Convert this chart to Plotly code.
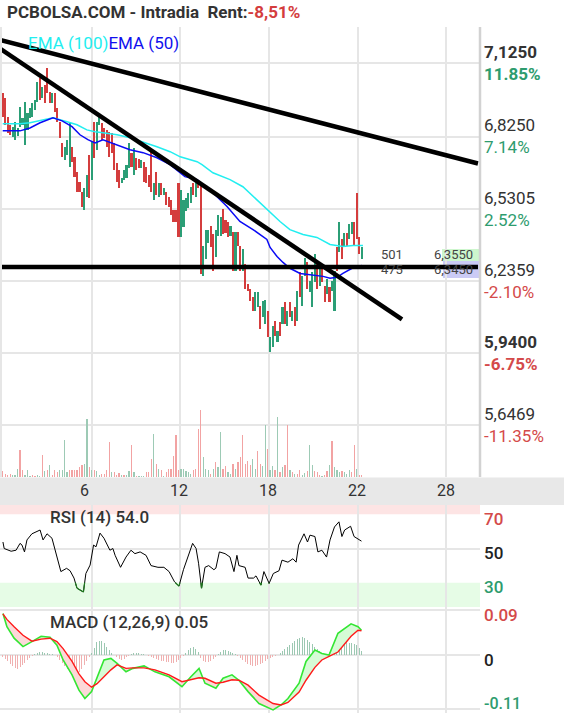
import plotly.graph_objects as go

# ---------------- data ----------------
opens = [
    7.003, 6.983, 6.905, 6.873, 6.824, 6.812, 6.828, 6.865, 6.873, 6.791,
    6.852, 6.901, 6.905, 6.934, 6.966, 7.064, 6.983, 7.036, 7.105, 7.007,
    6.962, 7.003, 6.942, 6.885, 6.799, 6.730, 6.751, 6.702, 6.783, 6.742,
    6.681, 6.641, 6.600, 6.527, 6.580, 6.751, 6.649, 6.885, 6.771, 6.873,
    6.881, 6.861, 6.852, 6.844, 6.840, 6.799, 6.718, 6.690, 6.637, 6.649,
    6.657, 6.698, 6.759, 6.669, 6.738, 6.734, 6.698, 6.722, 6.702, 6.669,
    6.763, 6.567, 6.681, 6.580, 6.637, 6.588, 6.600, 6.580, 6.567, 6.527,
    6.527, 6.637, 6.413, 6.454, 6.519, 6.535, 6.555, 6.637, 6.580, 6.649,
    6.637, 6.254, 6.323, 6.392, 6.458, 6.425, 6.335, 6.417, 6.417, 6.531,
    6.486, 6.478, 6.417, 6.437, 6.274, 6.437, 6.376, 6.274, 6.303, 6.221,
    6.201, 6.169, 6.112, 6.128, 6.132, 6.087, 6.059, 6.112, 5.945, 5.965,
    6.071, 5.985, 6.067, 6.059, 6.148, 6.050, 6.148, 6.071, 6.128, 6.071,
    6.270, 6.132, 6.254, 6.311, 6.189, 6.128, 6.230, 6.303, 6.213, 6.303,
    6.213, 6.181, 6.209, 6.193, 6.112, 6.372, 6.352, 6.405, 6.372, 6.433,
    6.405, 6.425, 6.474, 6.596, 6.413, 6.323]
closes = [
    6.905, 6.873, 6.840, 6.832, 6.865, 6.885, 6.861, 6.946, 6.901, 6.966,
    6.922, 6.942, 6.962, 6.974, 7.048, 6.974, 7.027, 6.962, 7.003, 6.962,
    7.003, 6.926, 6.885, 6.820, 6.742, 6.783, 6.812, 6.885, 6.722, 6.661,
    6.600, 6.600, 6.539, 6.616, 6.669, 6.576, 6.804, 6.738, 6.885, 6.905,
    6.812, 6.820, 6.783, 6.742, 6.759, 6.690, 6.641, 6.616, 6.657, 6.690,
    6.710, 6.799, 6.702, 6.779, 6.690, 6.698, 6.730, 6.641, 6.637, 6.620,
    6.600, 6.637, 6.588, 6.637, 6.588, 6.616, 6.547, 6.539, 6.506, 6.474,
    6.478, 6.413, 6.608, 6.567, 6.576, 6.596, 6.620, 6.588, 6.637, 6.616,
    6.262, 6.376, 6.445, 6.445, 6.372, 6.274, 6.445, 6.506, 6.498, 6.425,
    6.433, 6.413, 6.458, 6.274, 6.437, 6.376, 6.274, 6.364, 6.201, 6.193,
    6.152, 6.112, 6.189, 6.189, 6.038, 6.152, 6.156, 6.006, 6.006, 6.050,
    6.010, 6.030, 6.010, 6.128, 6.059, 6.112, 6.087, 6.112, 6.050, 6.193,
    6.169, 6.254, 6.331, 6.201, 6.234, 6.270, 6.344, 6.201, 6.283, 6.230,
    6.148, 6.242, 6.148, 6.234, 6.274, 6.274, 6.478, 6.323, 6.433, 6.376,
    6.466, 6.478, 6.376, 6.405, 6.344, 6.372]
volumes = [
    5.7, 3.3, 2.3, 3.3, 2.3, 2.3, 8.3, 26.7, 7.3, 2.3,
    7.3, 1.3, 2.3, 1.3, 2.3, 1.3, 22.3, 5.7, 6.7, 12.3,
    2.3, 6.7, 4.7, 7.3, 7.3, 37.3, 4.7, 6.7, 6.7, 7.3,
    6.7, 9.7, 12.3, 13.3, 58.3, 10, 6.7, 7.3, 6.3, 2.3,
    3.3, 3.3, 7.3, 34.7, 4.7, 4.7, 2.3, 4, 2.3, 2.3,
    2.3, 6.3, 32.3, 4.7, 1.3, 1.3, 1.3, 1.3, 4.7, 4.7,
    18.3, 43.3, 13.3, 8.3, 7.3, 1.3, 5, 8.3, 8.3, 21.3,
    42.3, 7.3, 8.3, 8.3, 6.3, 4.7, 3, 7.3, 8.3, 48.3,
    67.3, 20, 8.3, 7.3, 3.3, 8.3, 14.7, 10, 44.7, 8.3,
    11.3, 5, 3.3, 13.3, 8.3, 14.7, 20, 42.3, 13.3, 15.7,
    11.7, 18.3, 8.3, 25.7, 13.3, 11.3, 51.7, 28.3, 6.7, 11.3,
    7.3, 59.7, 5, 10, 11.7, 52.3, 6.7, 5, 3.3, 3.3,
    7.3, 2.3, 4, 5.7, 31.7, 12.3, 5.7, 4.7, 2.3, 1.3,
    2.3, 5.7, 11.7, 36.3, 10, 7.3, 4.7, 5.7, 4.7, 3.3,
    7.3, 4.7, 32.3, 8.3, 2.3, 2.0]
volume_dir = list(
    "dddduuuddu" "uudduududu" "ddduuuuddd" "ddduududuu" "ddddudddud"
    "uududuuudd" "dudududddd" "dduuuuuddd" "duuududuud" "duududdddd"
    "duudduuduu" "dududdudud" "duuduudddu" "dduduuuduu" "uddudd")

# EMA lines (candle index, price)
ema100_x = [0, 7.0, 11.0, 15.1, 20.3, 26.0, 30.0, 34.0, 37.3, 40.5, 46.2, 51.4, 56.7,
            62.3, 67.6, 71.7, 78.5, 80.5, 84.9, 91.8, 97.0, 102.7, 107.9, 112.0,
            116.0, 121.3, 126.9, 132.2, 137.4, 141.5, 145.5]
ema100_y = [6.877, 6.877, 6.881, 6.889, 6.901, 6.885, 6.873, 6.852, 6.844, 6.840, 6.832,
            6.820, 6.803, 6.783, 6.763, 6.742, 6.722, 6.710, 6.677, 6.649, 6.620,
            6.567, 6.519, 6.478, 6.445, 6.425, 6.413, 6.384, 6.376, 6.380, 6.380]
ema50_x = [0, 7.0, 11.0, 15.1, 20.3, 24.0, 28.0, 31.2, 34.4, 37.3, 40.5, 46.2, 51.4,
           56.7, 62.3, 67.6, 73.6, 78.5, 84.9, 90.6, 95.8, 101.1, 106.7, 108.0,
           110.8, 113.2, 116.0, 120.1, 125.3, 129.4, 132.2, 135.0, 137.4, 141.1, 145.1]
ema50_y = [6.848, 6.848, 6.860, 6.881, 6.901, 6.889, 6.865, 6.832, 6.812, 6.799, 6.812,
           6.791, 6.771, 6.759, 6.738, 6.710, 6.661, 6.649, 6.596, 6.539, 6.478,
           6.445, 6.405, 6.372, 6.335, 6.311, 6.287, 6.266, 6.258, 6.254, 6.246,
           6.250, 6.266, 6.287, 6.299]

# trend lines drawn on the chart (start index, start price, end index, end price)
trend_x0 = [-1.09, -1.09, -1.09]
trend_y0 = [7.219, 7.184, 6.292]
trend_x1 = [191.96, 161.27, 191.96]
trend_y1 = [6.715, 6.078, 6.292]

# RSI (14)
rsi_x = [0.1, 0.6, 3.4, 5.4, 7, 7.8, 8.8, 9.8, 11.8, 15.1, 16.3, 17.9, 19.9, 22.1, 23.5,
         25.8, 27.2, 28.8, 30, 32.6, 33.6, 35.3, 36.7, 37.7, 39.3, 40.9, 43.3, 44.5,
         45.4, 47.6, 49.8, 51.8, 53.4, 55.5, 57.9, 59.9, 62.7, 65.1, 67.2, 69.4, 71.2,
         73, 75.2, 76.7, 78.1, 79.1, 80.3, 81.7, 83.2, 85.3, 86.1, 87.5, 89.8, 91.8,
         93.4, 94.6, 95.4, 97.9, 99.1, 101.3, 102.3, 104.3, 105.5, 107.6, 109.3,
         111.6, 112.8, 115.2, 117.2, 118.5, 119.5, 121.7, 123.1, 124.1, 126.1, 127.3,
         128.9, 130.8, 132.2, 134, 135.8, 137, 138.1, 140.5, 141.9, 143.5, 144.9]
rsi_v = [53.8, 50, 48.4, 49, 53, 52, 48, 55, 58.6, 60.8, 55, 58.6, 56, 45, 36.5,
         38.4, 37, 32.7, 26.8, 24.6, 35.4, 40.3, 52, 51, 59, 56, 49, 50,
         46, 39, 45, 49, 47, 48, 46, 40, 39, 39, 36.5, 30.5, 28,
         37.6, 47, 53, 50, 41.4, 26.8, 39, 40, 37.6, 38.5, 48, 47, 45,
         36.5, 46, 40, 39, 32.7, 32.7, 34, 28.6, 36.5, 29.6, 35.4,
         37, 43.2, 42, 44, 42, 52, 58.6, 53.8, 57.8, 57, 48,
         49, 45, 55, 62.6, 65.6, 57, 60.8, 63, 57, 55.4, 54.3]

# MACD (12,26,9)
macd_x = [0.1, 1.7, 4.6, 8.2, 11.8, 15.5, 19.1, 21.9, 24.4, 28.0, 30.8, 33.2, 35.9,
          38.1, 40.9, 43.7, 46.2, 49.8, 52.6, 57.1, 61.5, 67.2, 72.4, 76.0, 79.3,
          81.7, 86.1, 89.0, 92.6, 95.4, 99.1, 103.5, 109.2, 112.4, 115.2, 119.7,
          122.5, 126.1, 128.9, 131.8, 135.4, 140.7, 143.5, 144.9]
macd_line = [0.084, 0.057, 0.034, 0.017, 0.027, 0.038, 0.036, 0.020, -0.010, -0.040,
             -0.071, -0.088, -0.074, -0.044, -0.010, -0.007, -0.017, -0.034, -0.027,
             -0.022, -0.034, -0.044, -0.064, -0.044, -0.027, -0.057, -0.067, -0.047,
             -0.040, -0.051, -0.074, -0.098, -0.111, -0.101, -0.088, -0.057, -0.013,
             0.010, 0.003, 0.000, 0.044, 0.063, 0.057, 0.050]
signal_line = [0.083, 0.072, 0.057, 0.040, 0.028, 0.032, 0.034, 0.027, 0.013, -0.013,
               -0.038, -0.054, -0.065, -0.058, -0.044, -0.030, -0.020, -0.027, -0.026,
               -0.026, -0.030, -0.040, -0.054, -0.050, -0.046, -0.047, -0.057, -0.055,
               -0.050, -0.051, -0.061, -0.081, -0.098, -0.101, -0.096, -0.075, -0.051,
               -0.025, -0.010, -0.003, 0.006, 0.038, 0.050, 0.049]
hist_milli = [
    -4, -8, -12, -18, -22, -26, -28, -24, -20, -16, -10, -6, -2,
    2, 4, 6, 6, 4, 4, 2, 2, 0,
    -4, -10, -16, -22, -28, -34, -38, -40, -38, -34, -28, -20, -12, -4,
    4, 14, 26, 28, 28, 24, 16, 10, 4, 0,
    -4, -8, -10, -8, -4, -2,
    2, 4, 4, 4, 2, 2, 0, -2,
    -4, -6, -8, -10, -12, -12, -14, -14, -16, -16, -14, -10, -6, -2,
    4, 10, 14, 16, 12, 6,
    -6, -12, -14, -14, -12, -8, -4,
    2, 6, 10, 10, 8, 6, 4, 2,
    -2, -6, -10, -14, -18, -20, -22, -22, -20, -18, -16, -12, -8, -6, -4, -2, 0,
    4, 8, 12, 16, 20, 24, 28, 32, 34, 36, 34, 30, 26, 22, 16, 12, 8, 4, 2,
    2, 6, 12, 18, 24, 26, 26, 26, 26, 24, 24, 22, 20, 14, 8]

# axis texts
day_ticks = [36.1, 71.6, 107.6, 143.5, 179.0]          # day boundaries (gridlines)
day_label_x = [33.2, 71.2, 107.3, 143.1, 179.0]
day_labels = ["6", "12", "18", "22", "28"]
price_ticks = [7.125, 6.825, 6.5305, 6.2359, 5.94, 5.6469]
price_text = ["7,1250", "6,8250", "6,5305", "6,2359", "5,9400", "5,6469"]
pct_text = ["11.85%", "7.14%", "2.52%", "-2.10%", "-6.75%", "-11.35%"]
price_bold = [True, False, False, False, True, False]

# ---------------- figure ----------------
W, H = 564, 713
def pyp(px):   # pixel row -> paper y
    return 1 - px / H
def pxp(px):   # pixel column -> paper x
    return px / W

GREEN = "#2b9e76"
RED = "#d43d3d"
GRID = "#e6e6e6"
idx = list(range(len(opens)))

fig = go.Figure()

# volume (overlay axis y4)
fig.add_trace(go.Bar(
    x=idx, y=volumes, width=0.5, xaxis="x", yaxis="y4",
    marker=dict(color=["#f2a3a3" if d == "d" else "#9dcab5" for d in volume_dir], line_width=0),
    hoverinfo="skip", showlegend=False))

# candle bodies
fig.add_trace(go.Bar(
    x=idx, y=[abs(c - o) for o, c in zip(opens, closes)],
    base=[min(o, c) for o, c in zip(opens, closes)], width=0.85,
    marker=dict(color=[GREEN if c >= o else RED for o, c in zip(opens, closes)], line_width=0),
    xaxis="x", yaxis="y", showlegend=False))

fig.add_trace(go.Scatter(x=ema100_x, y=ema100_y, mode="lines",
                         line=dict(color="#22eef0", width=1.5), xaxis="x", yaxis="y", showlegend=False))
fig.add_trace(go.Scatter(x=ema50_x, y=ema50_y, mode="lines",
                         line=dict(color="#0a0af5", width=1.5), xaxis="x", yaxis="y", showlegend=False))

for a, b, c, d in zip(trend_x0, trend_y0, trend_x1, trend_y1):
    fig.add_trace(go.Scatter(x=[a, c], y=[b, d], mode="lines",
                             line=dict(color="black", width=4.5), xaxis="x", yaxis="y",
                             showlegend=False))

# RSI
fig.add_trace(go.Scatter(x=rsi_x, y=rsi_v, mode="lines", line=dict(color="black", width=1),
                         xaxis="x2", yaxis="y2", showlegend=False))
low_x, low_y = [], []
for k in range(len(rsi_x) - 1):
    x0, x1, v0, v1 = rsi_x[k], rsi_x[k + 1], rsi_v[k], rsi_v[k + 1]
    if v0 < 30 or v1 < 30:
        if v0 >= 30:
            x0 = x0 + (x1 - x0) * (v0 - 30) / (v0 - v1); v0 = 30
        if v1 >= 30:
            x1 = x0 + (x1 - x0) * (30 - v0) / (v1 - v0); v1 = 30
        low_x += [x0, x1, None]; low_y += [v0, v1, None]
fig.add_trace(go.Scatter(x=low_x, y=low_y, mode="lines", line=dict(color="#1f7a1f", width=1.2),
                         xaxis="x2", yaxis="y2", showlegend=False))

# MACD fill between lines
pos_x, pos_y, neg_x, neg_y = [], [], [], []
for k in range(len(macd_x) - 1):
    a0, a1 = macd_line[k], macd_line[k + 1]
    b0, b1 = signal_line[k], signal_line[k + 1]
    x0, x1 = macd_x[k], macd_x[k + 1]
    d0, d1 = a0 - b0, a1 - b1
    pieces = []
    if d0 * d1 < 0:
        t = d0 / (d0 - d1)
        xm = x0 + t * (x1 - x0); ym = a0 + t * (a1 - a0)
        pieces.append((x0, a0, b0, xm, ym, ym, d0))
        pieces.append((xm, ym, ym, x1, a1, b1, d1))
    else:
        pieces.append((x0, a0, b0, x1, a1, b1, d0 + d1))
    for (p0, pa, pb, q0, qa, qb, d) in pieces:
        xs = [p0, q0, q0, p0, p0, None]
        ys = [pa, qa, qb, pb, pa, None]
        if d >= 0:
            pos_x += xs; pos_y += ys
        else:
            neg_x += xs; neg_y += ys
fig.add_trace(go.Scatter(x=pos_x, y=pos_y, mode="lines", fill="toself", fillcolor="#d6fbd6",
                         line=dict(width=0), xaxis="x3", yaxis="y3", showlegend=False))
fig.add_trace(go.Scatter(x=neg_x, y=neg_y, mode="lines", fill="toself", fillcolor="#fcd8d8",
                         line=dict(width=0), xaxis="x3", yaxis="y3", showlegend=False))
fig.add_trace(go.Bar(x=idx, y=[h / 1000 for h in hist_milli], width=0.4,
                     marker=dict(color=["#9cc8b2" if h >= 0 else "#f0b0b0" for h in hist_milli],
                                 line_width=0),
                     xaxis="x3", yaxis="y3", showlegend=False))
fig.add_trace(go.Scatter(x=macd_x, y=macd_line, mode="lines", line=dict(color="#33e633", width=1.6),
                         xaxis="x3", yaxis="y3", showlegend=False))
fig.add_trace(go.Scatter(x=macd_x, y=signal_line, mode="lines", line=dict(color="#ff1a1a", width=1.4),
                         xaxis="x3", yaxis="y3", showlegend=False))

xr = [-1.09, 192.77]
xcommon = dict(range=xr, tickvals=day_ticks, showticklabels=False, showgrid=True,
               gridcolor=GRID, gridwidth=2, zeroline=False, showline=False, ticks="",
               domain=[0, pxp(480)], fixedrange=True)
fig.update_layout(
    width=W, height=H, margin=dict(l=0, r=0, t=0, b=0), autosize=False,
    paper_bgcolor="white", plot_bgcolor="white", barmode="overlay", bargap=0,
    font=dict(family="Roboto", color="#333"),
    xaxis=dict(**xcommon, anchor="y"),
    xaxis2=dict(**xcommon, anchor="y2", matches="x"),
    xaxis3=dict(**xcommon, anchor="y3", matches="x"),
    yaxis=dict(domain=[pyp(477), pyp(27)], range=[5.435, 7.272], tickvals=price_ticks,
               showticklabels=False, gridcolor=GRID, gridwidth=2, zeroline=False, fixedrange=True),
    yaxis4=dict(overlaying="y", range=[0, 450], visible=False, fixedrange=True),
    yaxis2=dict(domain=[pyp(607), pyp(505)], range=[15.79, 75.44], tickvals=[50],
                showticklabels=False, gridcolor=GRID, gridwidth=2, zeroline=False, fixedrange=True),
    yaxis3=dict(domain=[0, pyp(607)], range=[-0.1172, 0.097], tickvals=[0.09, 0, -0.11],
                showticklabels=False, gridcolor=GRID, gridwidth=2, zeroline=False, fixedrange=True),
)

shapes = [
    # x-axis band
    dict(type="rect", xref="paper", yref="paper", x0=0, x1=1, y0=pyp(505), y1=pyp(477.5),
         fillcolor="#e8e8e8", line_width=0, layer="below"),
    # RSI zones
    dict(type="rect", xref="x2 domain", yref="y2", x0=0, x1=1, y0=70, y1=75.44,
         fillcolor="#fde4e4", line_width=0, layer="below"),
    dict(type="rect", xref="x2 domain", yref="y2", x0=0, x1=1, y0=15.79, y1=30,
         fillcolor="#e6fce6", line_width=0, layer="below"),
    # borders
    dict(type="line", xref="paper", yref="paper", x0=pxp(480), x1=pxp(480), y0=pyp(477), y1=pyp(27),
         line=dict(color="#d2d2d2", width=2.5)),
    dict(type="line", xref="paper", yref="paper", x0=pxp(1), x1=pxp(1), y0=pyp(477), y1=pyp(27),
         line=dict(color=GRID, width=2)),
    # bid / ask boxes
    dict(type="rect", xref="paper", yref="paper", x0=pxp(442), x1=pxp(480), y0=pyp(261), y1=pyp(249),
         fillcolor="#cdf6cd", line_width=0, layer="below"),
    dict(type="rect", xref="paper", yref="paper", x0=pxp(443), x1=pxp(480), y0=pyp(278), y1=pyp(261),
         fillcolor="#cbcbf5", line_width=0, layer="below"),
]
fig.update_layout(shapes=shapes)

ann = []
ann.append(dict(xref="paper", yref="paper", x=pxp(5), y=pyp(12), xanchor="left", yanchor="middle",
                text="<b>PCBOLSA.COM - Intradia\u00a0 Rent:<span style='color:#d43d3d'>-8,51%</span></b>",
                showarrow=False, font=dict(size=17, color="#333")))
ann.append(dict(xref="paper", yref="paper", x=pxp(26), y=pyp(43), xanchor="left", yanchor="middle",
                text="<span style='color:#22eef0'>EMA (100)</span><span style='color:#1010ee'>EMA (50)</span>",
                showarrow=False, font=dict(size=17)))
for v, t, p, b in zip(price_ticks, price_text, pct_text, price_bold):
    pc = "#2e9c6e" if not p.startswith("-") else "#d44a4a"
    ann.append(dict(xref="paper", yref="y", x=pxp(482), y=v, xanchor="left", yanchor="middle",
                    yshift=11, text=f"<b>{t}</b>" if b else t, showarrow=False,
                    font=dict(size=17, color="#333")))
    ann.append(dict(xref="paper", yref="y", x=pxp(482), y=v, xanchor="left", yanchor="middle",
                    yshift=-11, text=f"<b>{p}</b>" if b else p, showarrow=False,
                    font=dict(size=17, color=pc)))
for xv, t in zip(day_label_x, day_labels):
    ann.append(dict(xref="x", yref="paper", x=xv, y=pyp(490), xanchor="center", yanchor="middle",
                    text=t, showarrow=False, font=dict(size=16, color="#333")))
ann += [
    dict(xref="paper", yref="paper", x=pxp(392), y=pyp(254.5), text="501", showarrow=False,
         xanchor="center", yanchor="middle", font=dict(size=13, color="#444")),
    dict(xref="paper", yref="paper", x=pxp(392), y=pyp(269), text="475", showarrow=False,
         xanchor="center", yanchor="middle", font=dict(size=13, color="#444")),
    dict(xref="paper", yref="paper", x=pxp(432), y=pyp(254.5), text="6,3550", showarrow=False,
         xanchor="left", yanchor="middle", font=dict(size=13, color="#444")),
    dict(xref="paper", yref="paper", x=pxp(432), y=pyp(269), text="6,3450", showarrow=False,
         xanchor="left", yanchor="middle", font=dict(size=13, color="#444")),
    dict(xref="paper", yref="paper", x=pxp(48), y=pyp(517), text="RSI (14) 54.0", showarrow=False,
         xanchor="left", yanchor="middle", font=dict(size=17, color="#333", weight=500)),
    dict(xref="paper", yref="paper", x=pxp(48), y=pyp(622), text="MACD (12,26,9) 0.05", showarrow=False,
         xanchor="left", yanchor="middle", font=dict(size=17, color="#333", weight=500)),
    dict(xref="paper", yref="paper", x=pxp(482), y=pyp(519), text="70", showarrow=False,
         xanchor="left", yanchor="middle", font=dict(size=17, color="#d44a4a", weight=500)),
    dict(xref="paper", yref="paper", x=pxp(482), y=pyp(553), text="50", showarrow=False,
         xanchor="left", yanchor="middle", font=dict(size=17, color="#222", weight=500)),
    dict(xref="paper", yref="paper", x=pxp(482), y=pyp(587), text="30", showarrow=False,
         xanchor="left", yanchor="middle", font=dict(size=17, color="#2e9c6e", weight=500)),
    dict(xref="paper", yref="paper", x=pxp(482), y=pyp(615), text="0.09", showarrow=False,
         xanchor="left", yanchor="middle", font=dict(size=17, color="#d44a4a", weight=500)),
    dict(xref="paper", yref="paper", x=pxp(482), y=pyp(660), text="0", showarrow=False,
         xanchor="left", yanchor="middle", font=dict(size=17, color="#222", weight=500)),
    dict(xref="paper", yref="paper", x=pxp(482), y=pyp(703), text="-0.11", showarrow=False,
         xanchor="left", yanchor="middle", font=dict(size=16, color="#2e9c6e", weight=500)),
]
fig.update_layout(annotations=ann)

fig.write_html(
    "out.html",
    config={"displayModeBar": False, "staticPlot": True},
    post_script="document.body.style.margin='0px';document.body.style.padding='0px';"
                "document.body.style.overflow='hidden';")
